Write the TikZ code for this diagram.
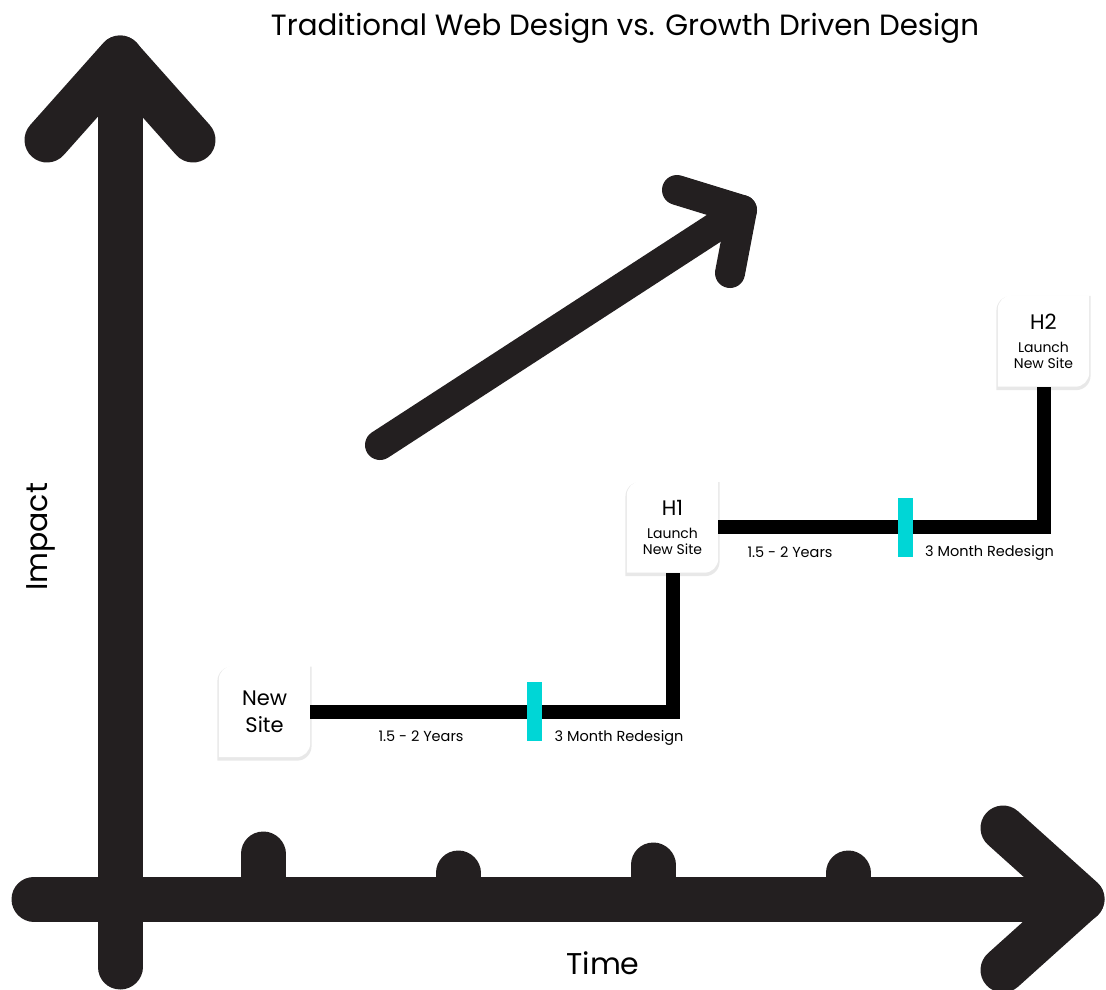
\documentclass[tikz,border=0pt]{standalone}
\usepackage{fontspec}
\setmainfont{Poppins}
\usetikzlibrary{shadows,backgrounds,calc}
\definecolor{ink}{HTML}{231F20}
\definecolor{marker}{HTML}{00D6D6}

\begin{document}
\begin{tikzpicture}[x=1pt,y=-1pt,
  axis/.style={draw=ink, line width=45pt, line cap=round, line join=round},
  growth/.style={draw=ink, line width=30pt, line cap=round, line join=round},
  track/.style={draw=black, line width=14pt},
  site/.style={minimum width=91pt, minimum height=91pt, inner sep=0pt, align=center},
  launch/.style={site, font=\fontsize{14}{16}\selectfont},
  card shadow/.style={drop shadow={shadow xshift=0pt, shadow yshift=-2pt, opacity=.18, shadow scale=1.03}},
  redesign/.style={fill=marker, minimum width=15pt, minimum height=59pt, inner sep=0pt},
  note/.style={font=\fontsize{14.5}{16}\selectfont, anchor=base}]
  \useasboundingbox (0,0) rectangle (1106,989);

  \node[anchor=base, font=\fontsize{29.3}{32}\selectfont] (title) at (625,35) {Traditional Web Design vs. Growth Driven Design};

  % axes
  \draw[axis] (120,967) -- (120,58);
  \draw[axis] (47,140) -- (120,58) -- (193,140);
  \draw[axis] (34,899) -- (1082,899);
  \draw[axis] (1003,828) -- (1082,899) -- (1003,970);
  \foreach \x/\top in {263/854, 458/873, 653/865, 848/873}
    \draw[axis] (\x,899) -- (\x,\top);
  \node[rotate=90, font=\fontsize{30}{32}\selectfont] (impact) at (41,537) {Impact};
  \node[font=\fontsize{30}{32}\selectfont] (time) at (603,963) {Time};

  \draw[growth] (380,445) -- (742,210);
  \draw[growth] (677,190) -- (742,210) -- (730,273);

  % sites
  \node[site, font=\fontsize{21}{27}\selectfont] (new) at (264.5,711.5) {New\\Site};
  \node[launch] (h1) at (672.5,527) {{\fontsize{21}{16}\selectfont H1}\\[7pt]Launch\\New Site};
  \node[launch] (h2) at (1043.5,341) {{\fontsize{21}{16}\selectfont H2}\\[7pt]Launch\\New Site};
  \begin{scope}[on background layer]
    \foreach \n in {new,h1,h2}
      \fill[white, card shadow] (\n.south west) -- ([yshift=-14pt]\n.north west)
        arc[start angle=180, end angle=90, radius=14pt] -- (\n.north east)
        -- ([yshift=14pt]\n.south east) arc[start angle=0, end angle=-90, radius=14pt] -- cycle;
  \end{scope}

  \draw[track] (new.east) -| (h1.south);
  \draw[track] (h1.east) -| (h2.south);

  \node[redesign] (m1) at (534.5,711.5) {};
  \node[redesign] (m2) at (905,527) {};
  \node[note] (y1) at (421,741) {1.5 - 2 Years};
  \node[note] (y2) at (790,557) {1.5 - 2 Years};
  \node[note, anchor=base west] (r1) at ([xshift=9pt]m1.south east) {3 Month Redesign};
  \node[note, anchor=base west] (r2) at ([xshift=9pt]m2.south east) {3 Month Redesign};
\end{tikzpicture}
\end{document}
